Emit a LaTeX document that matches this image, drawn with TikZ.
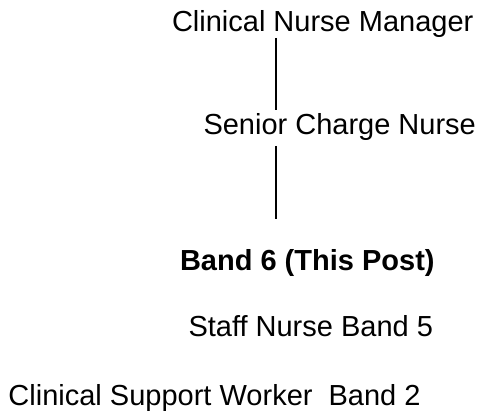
\documentclass[tikz,border=0pt]{standalone}
\usepackage{fontspec}
\setmainfont{Liberation Sans}
\begin{document}
\begin{tikzpicture}[x=1pt,y=1pt,
  lbl/.style={anchor=base west,inner sep=0pt,outer sep=0pt,font=\fontsize{29}{34}\selectfont},
  conn/.style={line width=2pt}]
\useasboundingbox (0,0) rectangle (482,-411);
\node[lbl] (cnm) at (172,-32) {Clinical Nurse Manager};
\node[lbl] (scn) at (203.5,-135) {Senior Charge Nurse};
\node[lbl,font=\fontsize{29}{34}\selectfont\bfseries] (b6) at (180,-271) {Band 6 (This Post)};
\node[lbl] (sn) at (188.5,-337) {Staff Nurse Band 5};
\node[lbl] (csw) at (8.5,-406) {Clinical Support Worker\ \ Band 2};
\coordinate (l1a) at (275.7,-38);
\coordinate (l1b) at (275.7,-110);
\coordinate (l2a) at (275.7,-146);
\coordinate (l2b) at (275.7,-219);
\draw[conn] (l1a) -- (l1b);
\draw[conn] (l2a) -- (l2b);
\end{tikzpicture}
\end{document}
